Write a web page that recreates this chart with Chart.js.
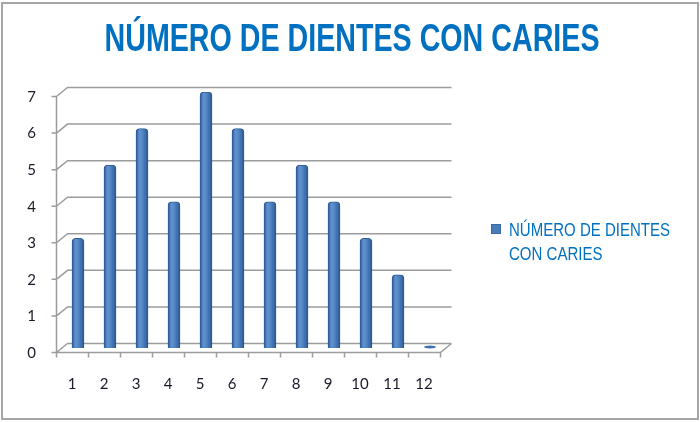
<!DOCTYPE html>
<html lang="es">
<head>
  <meta charset="UTF-8" />
  <title>Número de dientes con caries</title>
  <script src="https://cdn.jsdelivr.net/npm/chart.js"></script>
  <style>
    html, body { margin: 0; padding: 0; background: #fff; }
    #wrap { width: 700px; height: 422px; position: relative; }
  </style>
</head>
<body>
  <div id="wrap"><canvas id="chart" width="700" height="422"></canvas></div>

  <script>
    // data
    const categories = ['1', '2', '3', '4', '5', '6', '7', '8', '9', '10', '11', '12'];
    const dientes = [3, 5, 6, 4, 7, 6, 4, 5, 4, 3, 2, 0];
    const yTicks = [0, 1, 2, 3, 4, 5, 6, 7];
    const seriesName = 'NÚMERO DE DIENTES CON CARIES';
    const legendLines = ['NÚMERO DE DIENTES', 'CON CARIES'];

    const BLUE = '#0070c0';
    const BAR = '#4a7ebb';
    const GRID = '#9c9c9c';
    // fake 3d depth offset (half depth)
    const DX = 5.5, DY = 4.5;
    const BAR_W = 12;

    // cylinder-ish shading for each bar
    function barFill(c) {
      const xs = c.chart.scales.x;
      if (!xs || !c.chart.chartArea) return BAR;
      const cx = xs.getPixelForValue(c.dataIndex);
      const g = c.chart.ctx.createLinearGradient(cx - BAR_W / 2, 0, cx + BAR_W / 2, 0);
      g.addColorStop(0, '#2f5c95');
      g.addColorStop(0.3, '#5f93d2');
      g.addColorStop(0.6, '#4e81bf');
      g.addColorStop(1, '#2c578e');
      return g;
    }

    // walls, floor, axis lines
    const frame3d = {
      id: 'frame3d',
      beforeDatasetsDraw(chart) {
        const { ctx, chartArea: a, scales: { x, y } } = chart;
        ctx.save();
        ctx.strokeStyle = GRID;
        ctx.lineWidth = 1.5;
        ctx.beginPath();
        yTicks.forEach(v => {
          const py = y.getPixelForValue(v);
          ctx.moveTo(a.left - DX, py + DY);
          ctx.lineTo(a.left + DX, py - DY);
          ctx.lineTo(a.right + DX, py - DY);
          // tick mark
          ctx.moveTo(a.left - DX - 5, py + DY);
          ctx.lineTo(a.left - DX, py + DY);
        });
        const top = y.getPixelForValue(yTicks[yTicks.length - 1]);
        ctx.moveTo(a.left - DX, top + DY);
        ctx.lineTo(a.left - DX, a.bottom + DY);
        // floor front edge and right side
        ctx.lineTo(a.right - DX, a.bottom + DY);
        ctx.lineTo(a.right + DX, a.bottom - DY);
        // category ticks
        const step = (a.right - a.left) / categories.length;
        for (let i = 0; i <= categories.length; i++) {
          const px = a.left - DX + i * step;
          ctx.moveTo(px, a.bottom + DY);
          ctx.lineTo(px, a.bottom + DY + 5);
        }
        ctx.stroke();

        // flat disc for zero-height columns
        dientes.forEach((v, i) => {
          if (v !== 0) return;
          ctx.fillStyle = '#3f70ad';
          ctx.beginPath();
          ctx.ellipse(x.getPixelForValue(i), y.getPixelForValue(0) - 1, BAR_W / 2, 1.5, 0, 0, Math.PI * 2);
          ctx.fill();
        });
        ctx.restore();
      },
      afterDraw(chart) {
        const ctx = chart.ctx;
        ctx.save();
        // title
        ctx.fillStyle = BLUE;
        ctx.font = 'bold 38px "Liberation Sans", Arial, sans-serif';
        ctx.textBaseline = 'alphabetic';
        ctx.textAlign = 'center';
        let w = ctx.measureText(seriesName).width;
        ctx.translate(352, 51);
        ctx.scale(495 / w, 1);
        ctx.fillText(seriesName, 0, 0);
        ctx.restore();

        // legend
        ctx.save();
        ctx.fillStyle = BAR;
        ctx.fillRect(491, 224, 10, 10);
        ctx.strokeStyle = '#3c6aa3';
        ctx.lineWidth = 1;
        ctx.strokeRect(491.5, 224.5, 9, 9);
        ctx.fillStyle = BLUE;
        ctx.font = '18px "Liberation Sans", Arial, sans-serif';
        ctx.textAlign = 'left';
        const lw = ctx.measureText(legendLines[0]).width;
        const sx = 161 / lw;
        legendLines.forEach((t, i) => {
          ctx.save();
          ctx.translate(509, 236 + i * 24);
          ctx.scale(sx, 1);
          ctx.fillText(t, 0, 0);
          ctx.restore();
        });
        // outer border
        ctx.strokeStyle = '#a6a6a6';
        ctx.lineWidth = 2;
        ctx.strokeRect(2, 3, 696, 416);
        ctx.restore();
      }
    };

    const ctx = document.getElementById('chart').getContext('2d');
    new Chart(ctx, {
      type: 'bar',
      data: {
        labels: categories,
        datasets: [{
          label: seriesName,
          data: dientes,
          backgroundColor: barFill,
          borderColor: '#2e5a92',
          borderWidth: 1,
          borderRadius: { topLeft: 4, topRight: 4 },
          borderSkipped: 'bottom',
          barThickness: BAR_W
        }]
      },
      options: {
        responsive: false,
        animation: false,
        layout: { padding: { top: 92, right: 254, bottom: 0, left: 0 } },
        plugins: {
          legend: { display: false },
          title: { display: false },
          tooltip: { enabled: false }
        },
        scales: {
          x: {
            grid: { display: false, drawTicks: false },
            border: { display: false },
            ticks: {
              color: '#1a1a2a',
              font: { family: 'Lato, "Open Sans", sans-serif', size: 15 },
              padding: 27,
              labelOffset: -6,
              maxRotation: 0
            },
            afterFit(scale) { scale.height = 74; }
          },
          y: {
            min: 0,
            max: 7,
            grid: { display: false, drawTicks: false },
            border: { display: false },
            ticks: {
              stepSize: 1,
              color: '#1a1a2a',
              font: { family: 'Lato, "Open Sans", sans-serif', size: 15 },
              padding: 26,
              labelOffset: 5
            },
            afterFit(scale) { scale.width = 62; }
          }
        }
      },
      plugins: [frame3d]
    });
  </script>
</body>
</html>
